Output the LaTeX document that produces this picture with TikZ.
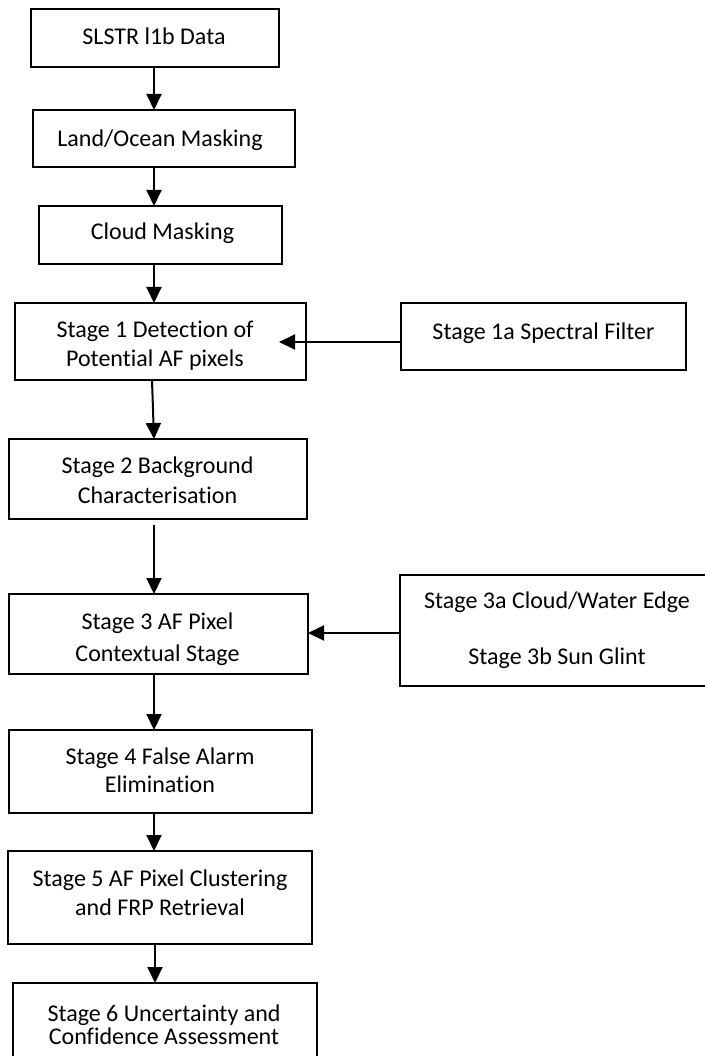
\documentclass[tikz,border=0pt]{standalone}
\usepackage{fontspec}
\setmainfont{Carlito}[Ligatures={NoCommon}]
\usetikzlibrary{arrows.meta,calc}
\newcommand\twoline[3]{\begin{tabular}[t]{@{}c@{}}#1\\[#3]#2\end{tabular}}
\begin{document}
\begin{tikzpicture}[x=1pt,y=-1pt,
  box/.style={draw=black,line width=2pt,inner sep=0pt,outer sep=0pt},
  txt/.style={anchor=base,inner sep=0pt,outer sep=0pt,font=\fontsize{24}{29}\selectfont},
  arr/.style={draw=black,line width=2pt,-{Triangle[length=16pt,width=15pt]}}]
\useasboundingbox (0,0) rectangle (704,1056);
\fill[white] (0,0) rectangle (704,1056);

% boxes
\node[box,minimum width=248pt,minimum height=58pt] (b1) at (155,38) {};
\node[box,minimum width=262pt,minimum height=57pt] (b2) at (164,138.5) {};
\node[box,minimum width=243pt,minimum height=58pt] (b3) at (160.5,235) {};
\node[box,minimum width=291pt,minimum height=77pt] (b4) at (160.5,341.5) {};
\node[box,minimum width=285pt,minimum height=67pt] (b4a) at (543.5,336.5) {};
\node[box,minimum width=298.5pt,minimum height=80pt] (b5) at (157.75,479) {};
\node[box,minimum width=299.5pt,minimum height=80pt] (b6) at (158.25,634) {};
\node[box,minimum width=320pt,minimum height=111pt] (b6a) at (560,630.5) {};
\node[box,minimum width=303pt,minimum height=83pt] (b7) at (160.5,771.5) {};
\node[box,minimum width=304pt,minimum height=93pt] (b8) at (160,897.5) {};
\node[box,minimum width=304pt,minimum height=87pt] (b9) at (165,1026.5) {};

% texts
\node[txt] (t1) at (154,44.3) {SLSTR l1b Data};
\node[txt] (t2) at (160,146.5) {Land/Ocean Masking};
\node[txt] (t3) at (162.5,240) {Cloud Masking};
\node[txt] (t4) at (155,337) {\twoline{Stage 1 Detection of}{Potential AF pixels}{0pt}};
\node[txt] (t4a) at (543.5,339) {Stage 1a Spectral Filter};
\node[txt] (t5) at (157.5,473.3) {\twoline{Stage 2 Background}{Characterisation}{1pt}};
\node[txt] (t6) at (157.5,629) {\twoline{Stage 3 AF Pixel}{Contextual Stage}{3.7pt}};
\node[txt] (t6a) at (557,608.5) {\twoline{Stage 3a Cloud/Water Edge}{Stage 3b Sun Glint}{26.5pt}};
\node[txt] (t7) at (160,764.3) {\twoline{Stage 4 False Alarm}{Elimination}{-0.6pt}};
\node[txt] (t8) at (160,886.7) {\twoline{Stage 5 AF Pixel Clustering}{and FRP Retrieval}{-0.7pt}};
\node[txt] (t9) at (164,1021) {\twoline{Stage 6 Uncertainty and}{Confidence Assessment}{-6pt}};

% connectors
\coordinate (ax) at (154,0);
\coordinate (ay1) at (0,342);
\coordinate (ay2) at (0,633);
\draw[arr] (b1.south -| ax) -- (b2.north -| ax);
\draw[arr] (b2.south -| ax) -- (b3.north -| ax);
\draw[arr] (b3.south -| ax) -- (b4.north -| ax);
\draw[arr] ($(b4.south -| ax)+(-2,0)$) -- (b5.north -| ax);
\draw[arr] ($(b5.south -| ax)+(0,6)$) -- (b6.north -| ax);
\draw[arr] (b6.south -| ax) -- (b7.north -| ax);
\draw[arr] (b7.south -| ax) -- (b8.north -| ax);
\draw[arr] ($(b8.south -| ax)+(1,0)$) -- ($(b9.north -| ax)+(1,0)$);
\draw[arr] (b4a.west |- ay1) -- ($(b4.east |- ay1)+(-27,0)$);
\draw[arr] (b6a.west |- ay2) -- (b6.east |- ay2);
\end{tikzpicture}
\end{document}
